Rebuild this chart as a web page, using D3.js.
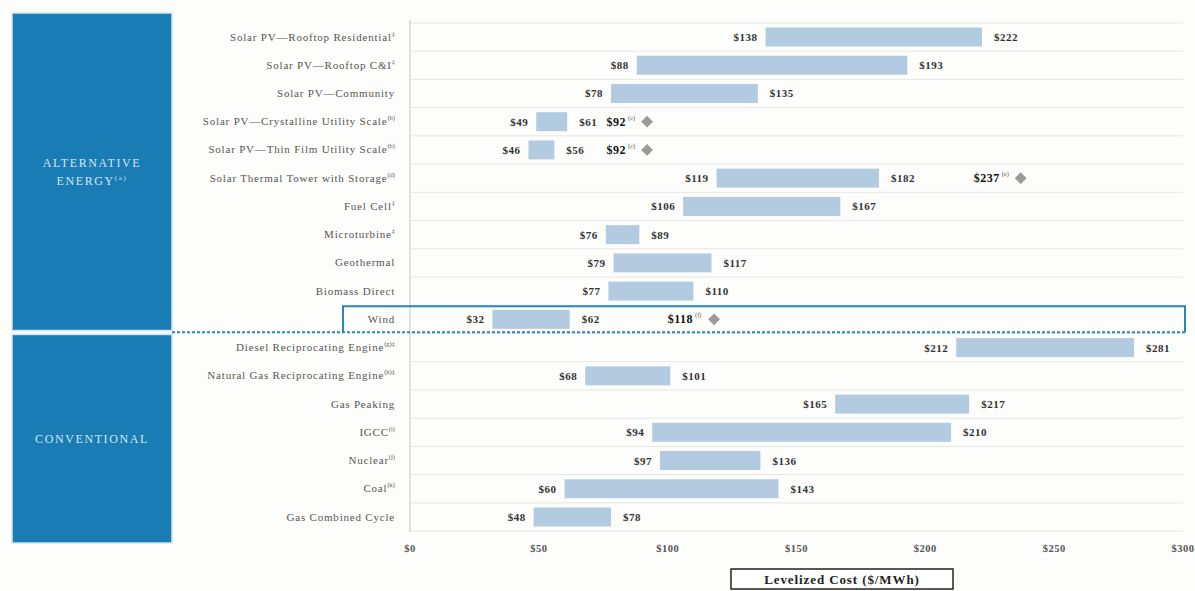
<!DOCTYPE html>
<html><head><meta charset="utf-8">
<script src="https://cdn.jsdelivr.net/npm/d3@7"></script>
<style>
body{margin:0;background:#fdfdfb;}
svg{display:block;}
</style></head>
<body><svg id="c" width="1195" height="591"></svg>
<script>
const categories = ["Solar PV\u2014Rooftop Residential","Solar PV\u2014Rooftop C&I","Solar PV\u2014Community","Solar PV\u2014Crystalline Utility Scale","Solar PV\u2014Thin Film Utility Scale","Solar Thermal Tower with Storage","Fuel Cell","Microturbine","Geothermal","Biomass Direct","Wind","Diesel Reciprocating Engine","Natural Gas Reciprocating Engine","Gas Peaking","IGCC","Nuclear","Coal","Gas Combined Cycle"];
const labelNotes = ["\u2021","\u2021","","(b)","(b)","(d)","\u2021","\u2021","","","","(g)\u2021","(h)\u2021","","(i)","(j)","(k)",""];
const lowValues  = [138, 88, 78, 49, 46, 119, 106, 76, 79, 77, 32, 212, 68, 165, 94, 97, 60, 48];
const highValues = [222,193,135, 61, 56, 182, 167, 89,117,110, 62, 281,101, 217,210,136,143, 78];
const diamondValues = [null,null,null,92,92,237,null,null,null,null,118,null,null,null,null,null,null,null];
const diamondNotes  = ["","","","(c)","(c)","(e)","","","","","(f)","","","","","","",""];
const tickValues = [0,50,100,150,200,250,300];
const groups = [{name:["ALTERNATIVE","ENERGY"], note:"(a)", first:0, last:10},{name:["CONVENTIONAL"], note:"", first:11, last:17}];

const svg = d3.select("#c");
const x = d3.scaleLinear().domain([0,300]).range([410,1183]);
const y = d3.scalePoint().domain(categories).range([37,517]);
const step = y.step();
const barH = 19;
const serif = "'Liberation Serif','DejaVu Serif',serif";

// left group boxes
const gb = svg.append("g");
groups.forEach((g,i)=>{
  const top = i===0 ? 13 : y(categories[g.first]) - step/2 + 1;
  const bot = i===0 ? y(categories[g.last]) + step/2 - 3 : 543;
  gb.append("rect").attr("x",12).attr("y",top).attr("width",160).attr("height",bot-top)
    .attr("fill","#1a7cb4").attr("stroke","#cfe6f3").attr("stroke-width",1.5);
  const cy = i===0 ? 167 : (top+bot)/2 + 4;
  g.name.forEach((t,k)=>{
    const tx = gb.append("text").attr("x",92).attr("y",cy + k*18)
      .attr("text-anchor","middle").attr("font-family",serif).attr("font-size",12)
      .attr("letter-spacing",1.6).attr("fill","#d3e7f3").text(t);
    if(k===g.name.length-1 && g.note) tx.append("tspan").attr("font-size",7).attr("dy",-5).text(g.note);
  });
});

// gridlines between rows
svg.append("g").selectAll("line").data(d3.range(categories.length+1)).join("line")
  .attr("x1",410).attr("x2",1183)
  .attr("y1",i=>y(categories[0]) - step/2 + i*step)
  .attr("y2",i=>y(categories[0]) - step/2 + i*step)
  .attr("stroke","#e6e6e6").attr("stroke-width",1);

// vertical axis line
svg.append("line").attr("x1",410).attr("x2",410).attr("y1",20).attr("y2",532)
  .attr("stroke","#cfcfcf").attr("stroke-width",1.2);

// wind highlight
const wy = y("Wind");
svg.append("path")
  .attr("d",`M343,${wy+13} L343,${wy-13} L1185,${wy-13} L1185,${wy+13}`)
  .attr("fill","none").attr("stroke","#2a86c2").attr("stroke-width",2);
svg.append("line").attr("x1",172).attr("x2",1185).attr("y1",wy+13).attr("y2",wy+13)
  .attr("stroke","#2a86c2").attr("stroke-width",2).attr("stroke-dasharray","3,2");

// category labels
const lab = svg.append("g");
categories.forEach((c,i)=>{
  const t = lab.append("text").attr("x",395).attr("y",y(c)+3.5).attr("text-anchor","end")
    .attr("font-family",serif).attr("font-size",11).attr("letter-spacing",0.8).attr("fill","#555").text(c);
  if(labelNotes[i]) t.append("tspan").attr("font-size",6.5).attr("letter-spacing",0).attr("dy",-5).text(labelNotes[i]);
});

// bars
svg.append("g").selectAll("rect").data(categories).join("rect")
  .attr("x",(d,i)=>x(lowValues[i])).attr("y",d=>y(d)-barH/2)
  .attr("width",(d,i)=>x(highValues[i])-x(lowValues[i])).attr("height",barH)
  .attr("fill","#b2cbe0");

// value labels
const vl = svg.append("g").attr("font-family",serif).attr("font-weight","bold").attr("font-size",11).attr("letter-spacing",0.5).attr("fill","#333");
categories.forEach((c,i)=>{
  vl.append("text").attr("x",x(lowValues[i])-8).attr("y",y(c)+4).attr("text-anchor","end").text("$"+lowValues[i]);
  vl.append("text").attr("x",x(highValues[i])+12).attr("y",y(c)+4).attr("text-anchor","start").text("$"+highValues[i]);
  if(diamondValues[i]!==null){
    const dx = x(diamondValues[i]);
    svg.append("path").attr("d",d3.symbol(d3.symbolSquare, 70)())
      .attr("transform",`translate(${dx},${y(c)}) rotate(45)`).attr("fill","#9a9a9a");
    vl.append("text").attr("x",dx-21).attr("y",y(c)+4).attr("text-anchor","end").attr("font-size",12).attr("fill","#111").text("$"+diamondValues[i]);
    vl.append("text").attr("x",dx-19).attr("y",y(c)-2).attr("font-size",6.5).attr("letter-spacing",0).attr("font-weight","normal").attr("fill","#555").text(diamondNotes[i]);
  }
});

// x axis tick labels
svg.append("g").selectAll("text").data(tickValues).join("text")
  .attr("x",d=>x(d)).attr("y",552).attr("text-anchor","middle")
  .attr("font-family",serif).attr("font-weight","bold").attr("font-size",10.5).attr("letter-spacing",0.5).attr("fill","#555")
  .text(d=>"$"+d);

// axis title box
svg.append("rect").attr("x",731).attr("y",569).attr("width",222).attr("height",20)
  .attr("fill","#fff").attr("stroke","#222").attr("stroke-width",1.5);
svg.append("text").attr("x",842).attr("y",584).attr("text-anchor","middle")
  .attr("font-family",serif).attr("font-weight","bold").attr("font-size",13).attr("letter-spacing",0.9).attr("fill","#222")
  .text("Levelized Cost ($/MWh)");
</script></body></html>
